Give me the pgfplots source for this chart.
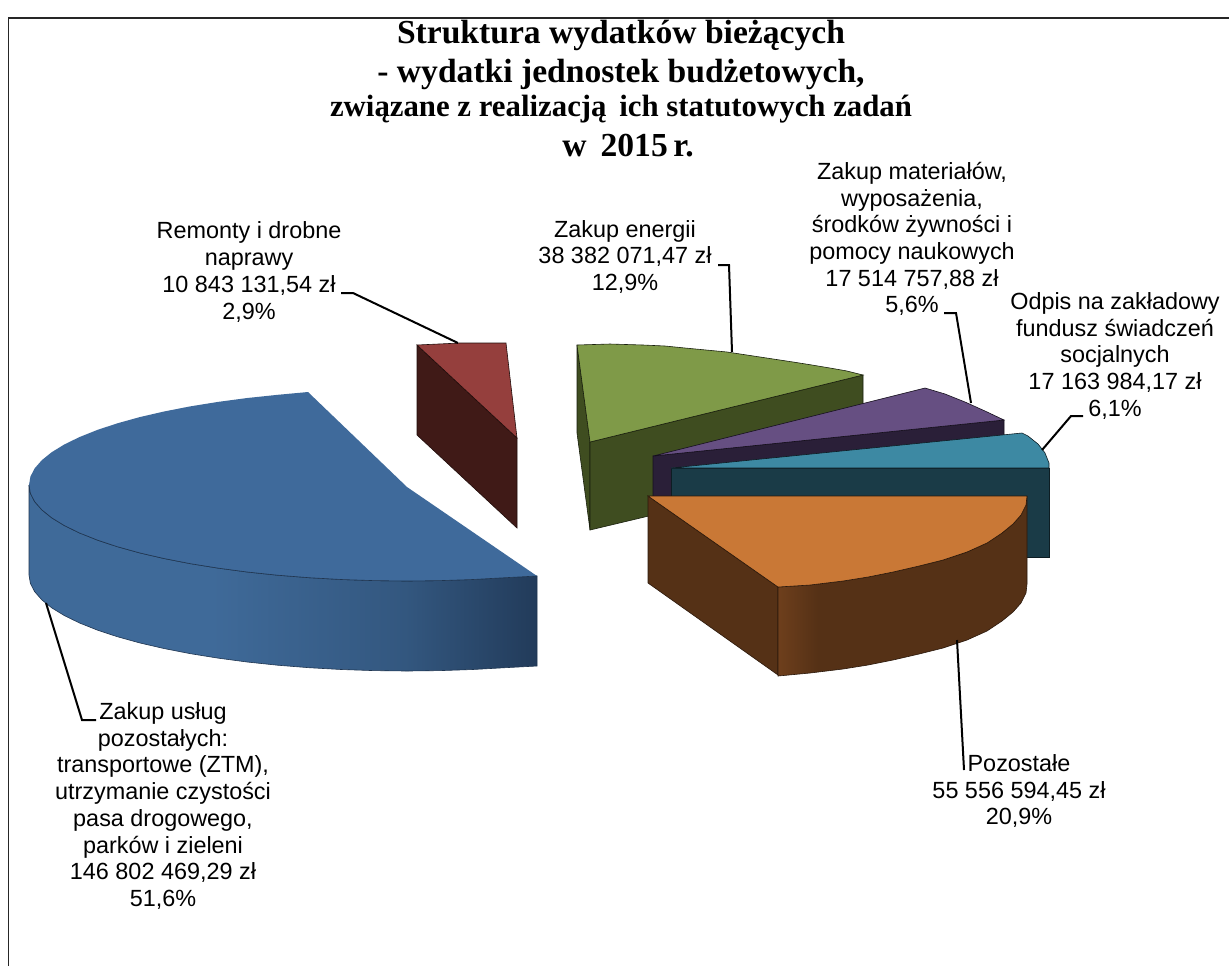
\documentclass[border=0pt]{standalone}
\usepackage{pgfplots}
\pgfplotsset{compat=1.18}
\usepackage{fontspec}
\setmainfont{Liberation Sans}
\newfontfamily\titlefont{Liberation Serif}
\definecolor{bluetop}{HTML}{3F6A9B}
\definecolor{blueA}{HTML}{3F6A99}
\definecolor{blueB}{HTML}{33577F}
\definecolor{blueC}{HTML}{223B5A}
\definecolor{blueedge}{HTML}{1F3550}
\definecolor{redtop}{HTML}{953F3D}
\definecolor{redside}{HTML}{401A17}
\definecolor{greentop}{HTML}{7F9A48}
\definecolor{greenside}{HTML}{3F4D20}
\definecolor{purpletop}{HTML}{664F82}
\definecolor{purpleside}{HTML}{2A1F38}
\definecolor{tealtop}{HTML}{3D89A3}
\definecolor{tealside}{HTML}{1A3B47}
\definecolor{orangetop}{HTML}{C97836}
\definecolor{orangeside}{HTML}{553116}
\definecolor{orangeA}{HTML}{6E3F1C}
\pgfdeclarehorizontalshading{blueside}{100bp}{color(0bp)=(blueA); color(25bp)=(blueA); color(43bp)=(blueA); color(62bp)=(blueB); color(75bp)=(blueC); color(100bp)=(blueC)}
\pgfdeclarehorizontalshading{orangeshade}{100bp}{color(0bp)=(orangeA); color(25bp)=(orangeA); color(33bp)=(orangeside); color(100bp)=(orangeside)}
\begin{document}
\begin{tikzpicture}
\begin{axis}[
  scale only axis, width=614.5pt, height=483pt,
  xmin=0, xmax=1229, ymin=0, ymax=966, y dir=reverse,
  hide axis, clip=true, no markers]
% page background and frame
\addplot[fill=white, draw=none] coordinates {(0,0) (1229,0) (1229,966) (0,966)} --cycle;
\addplot[black!85, line width=0.5pt] coordinates {(8,966) (8,18)};
\addplot[black!85, line width=1pt] coordinates {(8,18) (1229,18)};
% green
\addplot[fill=greenside, draw=black!60!greenside, line width=0.3pt] coordinates {(577,345) (590,442) (590,530) (577,433)} --cycle;
\addplot[fill=greenside, draw=black!60!greenside, line width=0.3pt] coordinates {(590,442) (863,375) (863,465) (590,530)} --cycle;
\addplot[fill=greentop, draw=black!60!greenside, line width=0.3pt] coordinates {(577,345) (610,344) (643,345) (665,346) (685,348) (706,350) (727,352) (760,357) (793,362) (812,365) (830,368) (847,371) (863,375) (590,442)} --cycle;
% purple
\addplot[fill=purpleside, draw=black!50!purpleside, line width=0.3pt] coordinates {(653,456) (1004,420) (1004,510) (653,546)} --cycle;
\addplot[fill=purpletop, draw=black!50!purpleside, line width=0.3pt] coordinates {(653,456) (925,388) (945,394) (965,402) (985,411) (1004,420)} --cycle;
% teal
\addplot[fill=tealside, draw=black!50!tealside, line width=0.3pt] coordinates {(671,468) (1049,468) (1049,557) (671,557)} --cycle;
\addplot[fill=tealtop, draw=black!50!tealside, line width=0.3pt] coordinates {(671,468) (1022,433) (1028,436) (1033,440) (1038,444) (1042,449) (1045,453) (1047,458) (1049,463) (1049,468)} --cycle;
% orange
\addplot[fill=orangeside, draw=black!50!orangeside, line width=0.3pt] coordinates {(648,496) (778,587) (778,675) (648,583)} --cycle;
\addplot[shade, shading=orangeshade, draw=black!50!orangeside, line width=0.3pt] coordinates {(778,587) (810,585) (843,581) (868,577) (893,572) (919,566) (943,560) (967,552) (987,543) (1002,533) (1013,524) (1021,515) (1026,505) (1027,496) (1027,584) (1026,593) (1021,603) (1013,612) (1002,621) (987,631) (967,640) (943,648) (919,654) (893,660) (868,665) (843,669) (810,673) (778,676)} --cycle;
\addplot[fill=orangetop, draw=black!50!orangeside, line width=0.3pt] coordinates {(648,496) (1027,496) (1026,505) (1021,515) (1013,524) (1002,533) (987,543) (967,552) (943,560) (919,566) (893,572) (868,577) (843,581) (810,585) (778,587)} --cycle;
% red
\addplot[fill=redside, draw=black!50!redside, line width=0.3pt] coordinates {(417,345) (517,438) (517,528) (417,435)} --cycle;
\addplot[fill=redtop, draw=black!50!redside, line width=0.3pt] coordinates {(417,345) (460,343) (506,343) (517,438)} --cycle;
% blue
\addplot[shade, shading=blueside, draw=blueedge, line width=0.3pt] coordinates {(537,576) (504.8,577.7) (472.6,579.5) (440,580.6) (407,581) (374,580.6) (341.4,579.5) (309.2,577.7) (277.7,575.2) (247.2,572) (218,568.1) (190,563.6) (164,558.5) (139.7,552.9) (117.4,546.7) (97.4,540.1) (79.6,533) (64.4,525.6) (51.7,517.8) (41.9,509.9) (34.7,501.7) (30.4,493.4) (29,485) (29,575) (30.4,583.4) (34.7,591.7) (41.9,599.9) (51.7,607.8) (64.4,615.6) (79.6,623) (97.4,630.1) (117.4,636.7) (139.7,642.9) (164,648.5) (190,653.6) (218,658.1) (247.2,662) (277.7,665.2) (309.2,667.7) (341.4,669.5) (374,670.6) (407,671) (440,670.6) (472.6,669.5) (504.8,667.7) (537,666)} --cycle;
\addplot[fill=bluetop, draw=none] coordinates {(308,392) (407,487) (537,576) (504.8,577.7) (472.6,579.5) (440,580.6) (407,581) (374,580.6) (341.4,579.5) (309.2,577.7) (277.7,575.2) (247.2,572) (218,568.1) (190,563.6) (164,558.5) (139.7,552.9) (117.4,546.7) (97.4,540.1) (79.6,533) (64.4,525.6) (51.7,517.8) (41.9,509.9) (34.7,501.7) (30.4,493.4) (29,485) (30.4,476.6) (34.7,468.3) (41.9,460.1) (51.7,452.2) (64.4,444.4) (79.6,437) (97.4,429.9) (117.4,423.3) (139.7,417.1) (164,411.5) (190,406.4) (218,401.9) (247.2,398) (277.7,394.8)} --cycle;
\addplot[blueedge, line width=0.3pt] coordinates {(537,576) (504.8,577.7) (472.6,579.5) (440,580.6) (407,581) (374,580.6) (341.4,579.5) (309.2,577.7) (277.7,575.2) (247.2,572) (218,568.1) (190,563.6) (164,558.5) (139.7,552.9) (117.4,546.7) (97.4,540.1) (79.6,533) (64.4,525.6) (51.7,517.8) (41.9,509.9) (34.7,501.7) (30.4,493.4) (29,485)};
% leader lines
\addplot[black, line width=1pt] coordinates {(341,293) (353,293) (458,343)};
\addplot[black, line width=1pt] coordinates {(718,265) (729,265) (732,352)};
\addplot[black, line width=1pt] coordinates {(944,313) (956,313) (971,403)};
\addplot[black, line width=1pt] coordinates {(1042,450) (1071,416) (1083,416)};
\addplot[black, line width=1pt] coordinates {(957,640) (964,770)};
\addplot[black, line width=1pt] coordinates {(46,603) (82,720) (96,720)};
% title
\tikzset{ttl/.style={inner sep=0pt, font=\titlefont\bfseries\fontsize{16.8}{20}\selectfont},
         lab/.style={inner sep=0pt, align=center, font=\fontsize{11.7}{13.35}\selectfont}}
\node[ttl] at (axis cs:621,35) {Struktura wydatków bieżących};
\node[ttl] at (axis cs:621,74) {- wydatki jednostek budżetowych,};
\node[ttl, font=\titlefont\bfseries\fontsize{15.4}{18}\selectfont] at (axis cs:621,109) {związane z realizacją\, ich statutowych zadań};
\node[ttl] at (axis cs:628,146) {w\, 2015\,r.};
% labels
\node[lab] at (axis cs:249,272) {Remonty i drobne\\naprawy\\10 843 131,54 zł\\2,9\%};
\node[lab] at (axis cs:625,257) {Zakup energii\\38 382 071,47 zł\\12,9\%};
\node[lab] at (axis cs:912,239) {Zakup materiałów,\\wyposażenia,\\środków żywności i\\pomocy naukowych\\17 514 757,88 zł\\5,6\%};
\node[lab] at (axis cs:1115,356) {Odpis na zakładowy\\fundusz świadczeń\\socjalnych\\17 163 984,17 zł\\6,1\%};
\node[lab] at (axis cs:163,806) {Zakup usług\\pozostałych:\\transportowe (ZTM),\\utrzymanie czystości\\pasa drogowego,\\parków i zieleni\\146 802 469,29 zł\\51,6\%};
\node[lab] at (axis cs:1019,791) {Pozostałe\\55 556 594,45 zł\\20,9\%};
\end{axis}
\end{tikzpicture}
\end{document}
